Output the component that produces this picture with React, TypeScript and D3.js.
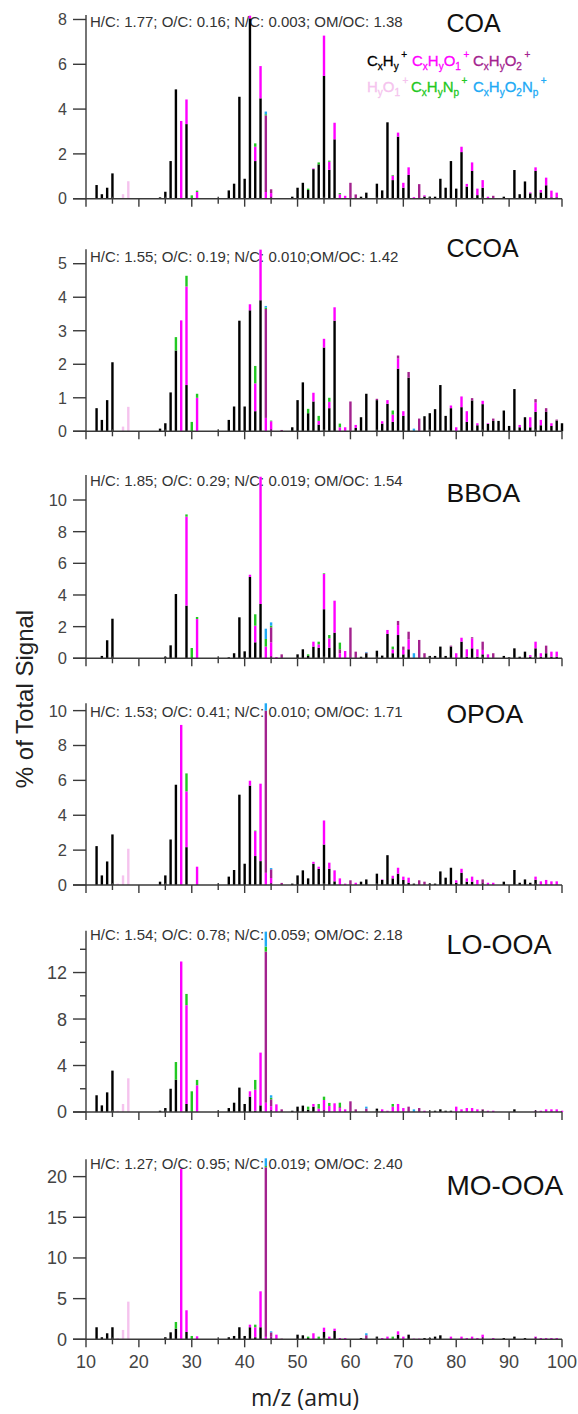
import React from 'react';
import * as d3 from 'd3';

type Pt = [number, number];

// ion families, stacked bottom to top
const families = ['ch', 'cho1', 'cho2', 'ho', 'chn', 'chon'];
const familyColors = ['#000000', '#ff00ff', '#a3228e', '#f5c3ee', '#22c822', '#20aaf5'];

// COA
const coaCH: Pt[] = [[12, .61], [13, .2], [14, .49], [15, 1.13], [24, .06], [25, .31], [26, 1.68], [27, 4.88], [29, 3.33], [37, .37], [38, .67], [39, 4.55], [40, .89], [41, 8.05], [42, 1.68], [43, 4.48], [49, .09], [50, .49], [51, .71], [52, .39], [53, 1.32], [54, 1.53], [55, 5.48], [56, 1.29], [57, 2.65], [62, .09], [63, .27], [65, .67], [66, .37], [67, 3.41], [68, .83], [69, 2.77], [70, .49], [71, 1.06], [74, .1], [75, .09], [76, .09], [77, .89], [78, .49], [79, 1.68], [80, .45], [81, 2.08], [82, .54], [83, 1.24], [84, .16], [85, .49], [89, .09], [91, 1.28], [92, .2], [93, .77], [94, .24], [95, 1.24], [96, .28], [97, .6], [98, .06], [99, .06]];
const coaCHO1: Pt[] = [[28, 3.47], [29, 1.1], [31, .3], [41, .12], [42, .64], [43, 1.44], [44, .3], [45, .25], [53, .03], [55, 1.8], [56, .36], [57, .74], [58, .2], [59, .13], [68, .2], [69, .18], [70, .22], [71, .34], [72, .07], [74, .05], [81, .24], [82, .12], [83, .38], [84, .29], [85, .34], [86, .09], [94, .04], [95, .16], [96, .11], [97, .34], [98, .3], [99, .21]];
const coaCHO2: Pt[] = [[44, 3.42], [45, .17], [60, .71], [61, .19], [73, .65], [87, .13]];
const coaHO: Pt[] = [[17, .2], [18, .78]];
const coaCHN: Pt[] = [[30, .15], [31, .06], [42, .15], [44, .05], [52, .06], [54, .09], [56, .05], [58, .05], [68, .03]];
const coaCHON: Pt[] = [[44, .12]];

// CCOA
const ccoaCH: Pt[] = [[12, .69], [13, .34], [14, .93], [15, 2.06], [24, .08], [25, .24], [26, 1.16], [27, 2.41], [29, 1.38], [37, .34], [38, .74], [39, 3.3], [40, .74], [41, 3.61], [42, .6], [43, 3.91], [49, .12], [50, .93], [51, 1.46], [52, .54], [53, .89], [54, .2], [55, 2.5], [56, .69], [57, 3.3], [61, .1], [62, .42], [63, 1.12], [65, .93], [66, .23], [67, .82], [68, .28], [69, 1.87], [70, .46], [71, 1.6], [74, .45], [75, .54], [76, .66], [77, 1.38], [78, .46], [79, .69], [81, .72], [82, .28], [83, .92], [84, .18], [85, .81], [86, .22], [87, .31], [88, .31], [89, .62], [90, .16], [91, 1.26], [92, .12], [93, .42], [94, .12], [95, .58], [96, .18], [97, .58], [98, .16], [99, .32], [100, .24]];
const ccoaCHO1: Pt[] = [[28, 3.31], [29, 2.94], [31, 1.0], [41, .18], [42, .83], [43, 1.51], [44, .4], [45, .3], [53, .26], [54, .11], [55, .26], [56, .19], [57, .4], [58, .12], [59, .12], [61, .09], [66, .07], [67, .11], [68, .22], [69, .3], [70, .14], [79, .08], [80, .12], [81, .32], [82, .32], [84, .06], [85, .1], [86, .02], [92, .07], [94, .3], [95, .28], [96, .16], [98, .08]];
const ccoaCHO2: Pt[] = [[44, 3.25], [47, .04], [60, .89], [65, .04], [69, .09], [71, .17], [73, .38], [83, .07], [87, .07], [95, .1], [97, .11], [99, .03]];
const ccoaHO: Pt[] = [[17, .14], [18, .73]];
const ccoaCHN: Pt[] = [[27, .4], [29, .32], [30, .28], [31, .12], [42, .52], [44, .04], [45, .02], [52, .13], [54, .15], [56, .12], [58, .11], [68, .12]];
const ccoaCHON: Pt[] = [[44, .05], [72, .08]];

// BBOA
const bboaCH: Pt[] = [[13, .15], [14, 1.14], [15, 2.5], [25, .1], [26, .82], [27, 4.06], [29, 3.33], [37, .06], [38, .32], [39, 2.59], [40, .44], [41, 5.14], [42, 1.01], [43, 3.43], [50, .25], [51, .57], [52, .15], [53, .74], [54, .67], [55, 3.1], [56, .67], [57, 1.62], [62, .1], [63, .32], [65, .48], [66, .17], [67, 1.54], [68, .32], [69, 1.47], [70, .25], [71, .57], [75, .15], [76, .15], [77, .74], [78, .15], [79, .74], [81, 1.05], [82, .1], [83, .63], [84, .1], [85, .25], [89, .15], [90, .06], [91, .63], [92, .1], [93, .42], [94, .1], [95, .63], [96, .1], [97, .32], [98, .1], [99, .1]];
const bboaCHO1: Pt[] = [[29, 5.62], [31, 2.48], [41, .14], [42, 1.05], [43, 8.04], [44, .74], [45, 1.01], [46, .08], [53, .31], [54, .21], [55, 2.23], [56, .59], [57, 2.02], [58, .32], [59, .46], [67, .25], [68, .25], [69, .63], [70, .28], [71, .63], [80, .32], [81, .25], [82, .47], [83, .63], [84, .47], [85, .28], [86, .25], [94, .1], [95, .42], [96, .22], [98, .32], [99, .32]];
const bboaCHO2: Pt[] = [[45, .95], [47, .25], [58, .25], [60, 1.94], [61, .42], [63, .04], [69, .26], [70, .21], [71, .48], [73, 1.16], [74, .32], [79, .06], [83, .07], [85, .52], [87, .32], [97, .48]];
const bboaHO: Pt[] = [];
const bboaCHN: Pt[] = [[29, .14], [30, .65], [31, .13], [42, .72], [44, .48], [45, .1], [52, .1], [54, .17], [55, .04], [56, .21], [58, .42], [68, .17]];
const bboaCHON: Pt[] = [[44, .65], [45, .21], [63, .04], [72, .32]];

// OPOA
const opoaCH: Pt[] = [[12, 2.23], [13, .55], [14, 1.35], [15, 2.9], [24, .19], [25, .55], [26, 2.61], [27, 5.75], [29, 2.17], [37, .48], [38, .86], [39, 5.18], [40, 1.22], [41, 5.7], [42, 1.66], [43, 1.37], [49, .08], [50, .55], [51, .84], [52, .38], [53, 1.22], [54, .93], [55, 2.32], [56, .93], [57, .21], [62, .19], [63, .32], [65, .65], [66, .29], [67, 1.71], [68, .38], [69, .65], [70, .29], [71, .13], [72, .08], [75, .08], [76, .08], [77, .78], [78, .42], [79, .99], [80, .13], [81, .7], [82, .19], [83, .19], [89, .19], [91, .86], [92, .13], [93, .32], [94, .13], [95, .3]];
const opoaCHO1: Pt[] = [[28, 9.18], [29, 3.2], [31, 1.05], [41, .28], [42, 1.43], [43, 4.44], [44, .7], [45, .4], [53, .11], [54, .12], [55, 1.38], [56, .35], [57, .63], [58, .38], [59, .08], [61, .13], [66, .03], [68, .15], [69, .34], [70, .19], [71, .29], [80, .14], [81, .23], [82, .19], [83, .29], [84, .29], [86, .13], [87, .13], [95, .18], [96, .21], [97, .29], [98, .21], [99, .21]];
const opoaCHO2: Pt[] = [[44, 9.3], [45, .5], [47, .12], [60, .27], [73, .27], [74, .19], [85, .32]];
const opoaHO: Pt[] = [[16, .08], [17, .55], [18, 2.08]];
const opoaCHN: Pt[] = [[29, 1.03], [42, .03]];
const opoaCHON: Pt[] = [[44, .42], [45, .07]];

// LO-OOA
const looaCH: Pt[] = [[12, 1.44], [13, .57], [14, 1.69], [15, 3.56], [24, .11], [25, .34], [26, 2.0], [27, 2.78], [29, .69], [37, .34], [38, .8], [39, 2.1], [40, .69], [41, 1.32], [42, .11], [43, .57], [49, .11], [50, .46], [51, .55], [52, .2], [53, .46], [65, .29], [76, .11], [77, .23], [78, .11], [79, .11], [91, .23]];
const looaCHO1: Pt[] = [[28, 12.95], [29, 8.5], [31, 2.3], [41, .46], [42, 1.81], [43, 4.54], [44, .8], [45, .5], [46, .66], [53, .23], [54, .29], [55, 1.03], [56, .52], [57, .75], [58, .32], [59, .23], [66, .23], [67, .11], [68, .46], [69, .69], [70, .34], [74, .11], [80, .46], [81, .23], [82, .34], [83, .34], [84, .23], [86, .11], [87, .11], [95, .11], [96, .11], [97, .23], [98, .23], [99, .23], [100, .11]];
const looaCHO2: Pt[] = [[44, 13.0], [45, .59], [47, .23], [58, .1], [60, .92], [61, .23], [63, .3], [71, .46], [73, .34], [85, .23]];
const looaHO: Pt[] = [[16, .11], [17, .69], [18, 2.9]];
const looaCHN: Pt[] = [[27, 1.52], [29, .97], [30, 1.78], [31, .46], [42, .84], [44, .43], [45, .14], [52, .26], [54, .4], [55, .29], [56, .26], [58, .38], [68, .23]];
const looaCHON: Pt[] = [[44, 1.29], [45, .21], [63, .16], [72, .23]];

// MO-OOA
const mooaCH: Pt[] = [[12, 1.48], [13, .25], [14, .74], [15, 1.48], [25, .25], [26, .86], [27, 1.31], [29, .9], [37, .25], [38, .41], [39, 1.48], [40, .41], [41, 1.48], [42, .25], [43, 1.48], [50, .57], [51, .49], [52, .16], [55, .9], [57, 1.02], [62, .16], [65, .33], [69, .57], [71, .57], [74, .16], [75, .16], [76, .33], [77, .49], [89, .16], [91, .33], [93, .16]];
const mooaCHO1: Pt[] = [[28, 20.95], [29, 2.67], [31, .37], [41, .32], [42, 1.23], [43, 4.42], [44, .3], [45, .3], [46, .57], [53, .74], [55, .53], [56, .33], [57, .29], [58, .16], [59, .16], [66, .16], [67, .33], [69, .41], [70, .33], [72, .08], [73, .08], [79, .33], [81, .33], [82, .16], [83, .33], [84, .16], [85, .57], [87, .16], [95, .33], [96, .16], [97, .16], [98, .16], [99, .16]];
const mooaCHO2: Pt[] = [[44, 20.85], [45, .55], [47, .08], [63, .5]];
const mooaHO: Pt[] = [[16, .16], [17, 1.15], [18, 4.63]];
const mooaCHN: Pt[] = [[27, .82], [30, .41], [42, .32], [44, .15], [52, .17], [54, .33], [68, .33]];
const mooaCHON: Pt[] = [[44, .95], [45, .13], [63, .24]];

const factorNames = ['COA', 'CCOA', 'BBOA', 'OPOA', 'LO-OOA', 'MO-OOA'];
const elemental = [
  'H/C: 1.77; O/C: 0.16; N/C: 0.003; OM/OC: 1.38',
  'H/C: 1.55; O/C: 0.19; N/C: 0.010;OM/OC: 1.42',
  'H/C: 1.85; O/C: 0.29; N/C: 0.019; OM/OC: 1.54',
  'H/C: 1.53; O/C: 0.41; N/C: 0.010; OM/OC: 1.71',
  'H/C: 1.54; O/C: 0.78; N/C: 0.059; OM/OC: 2.18',
  'H/C: 1.27; O/C: 0.95; N/C: 0.019; OM/OC: 2.40',
];
const factorData = [
  [coaCH, coaCHO1, coaCHO2, coaHO, coaCHN, coaCHON],
  [ccoaCH, ccoaCHO1, ccoaCHO2, ccoaHO, ccoaCHN, ccoaCHON],
  [bboaCH, bboaCHO1, bboaCHO2, bboaHO, bboaCHN, bboaCHON],
  [opoaCH, opoaCHO1, opoaCHO2, opoaHO, opoaCHN, opoaCHON],
  [looaCH, looaCHO1, looaCHO2, looaHO, looaCHN, looaCHON],
  [mooaCH, mooaCHO1, mooaCHO2, mooaHO, mooaCHN, mooaCHON],
];
const yMax = [8.2, 5.43, 11.58, 10.42, 15.6, 22.13];
const yTicks = [[0, 2, 4, 6, 8], [0, 1, 2, 3, 4, 5], [0, 2, 4, 6, 8, 10], [0, 2, 4, 6, 8, 10], [0, 4, 8, 12], [0, 5, 10, 15, 20]];
const yMinorTicks = [[], [], [], [], [2, 6, 10, 14], []];
const xTicks = [10, 20, 30, 40, 50, 60, 70, 80, 90, 100];
const xMinorTicks = [15, 25, 35, 45, 55, 65, 75, 85, 95];

// panel geometry (px)
const layout = [
  { y0: 198.7, top: 15, infoY: 27.3, titleY: 31.7, titleSize: 25, tickSize: 16 },
  { y0: 431.3, top: 249.3, infoY: 261.5, titleY: 256.7, titleSize: 25, tickSize: 16 },
  { y0: 658.3, top: 475, infoY: 485.7, titleY: 501.7, titleSize: 26.5, tickSize: 16.5 },
  { y0: 885, top: 703.3, infoY: 716.5, titleY: 723.3, titleSize: 26.5, tickSize: 16.5 },
  { y0: 1112, top: 930.7, infoY: 940, titleY: 954, titleSize: 27, tickSize: 18 },
  { y0: 1339.3, top: 1159.3, infoY: 1169.3, titleY: 1195, titleSize: 28, tickSize: 18 },
];

const W = 578;
const H = 1414;
const font = 'Arial, "Liberation Sans", sans-serif';
const axisColor = '#3a3a3a';
const barW = 2.4;

type Part = [string, 'n' | 'b' | 'p'];
const legendItems: { x: number; y: number; color: number; parts: Part[] }[] = [
  { x: 367, y: 66, color: 0, parts: [['C', 'n'], ['x', 'b'], ['H', 'n'], ['y', 'b'], ['+', 'p']] },
  { x: 412, y: 66, color: 1, parts: [['C', 'n'], ['x', 'b'], ['H', 'n'], ['y', 'b'], ['O', 'n'], ['1', 'b'], ['+', 'p']] },
  { x: 473, y: 66, color: 2, parts: [['C', 'n'], ['x', 'b'], ['H', 'n'], ['y', 'b'], ['O', 'n'], ['2', 'b'], ['+', 'p']] },
  { x: 367, y: 92, color: 3, parts: [['H', 'n'], ['y', 'b'], ['O', 'n'], ['1', 'b'], ['+', 'p']] },
  { x: 411, y: 92, color: 4, parts: [['C', 'n'], ['x', 'b'], ['H', 'n'], ['y', 'b'], ['N', 'n'], ['p', 'b'], ['+', 'p']] },
  { x: 473, y: 92, color: 5, parts: [['C', 'n'], ['x', 'b'], ['H', 'n'], ['y', 'b'], ['O', 'n'], ['2', 'b'], ['N', 'n'], ['p', 'b'], ['+', 'p']] },
];

function Formula({ x, y, parts, color }: { x: number; y: number; parts: Part[]; color: string }) {
  let shift = 0;
  return (
    <text x={x} y={y} fill={color} fontSize={15} fontFamily={font} stroke={color} strokeWidth={0.3}>
      {parts.map(([t, k], i) => {
        const target = k === 'b' ? 4 : k === 'p' ? -8 : 0;
        const dy = target - shift;
        shift = target;
        return (
          <tspan key={i} dy={dy} dx={k === 'p' ? 2.5 : 0} fontSize={k === 'n' ? 15 : 10}>{t}</tspan>
        );
      })}
    </text>
  );
}

const x = d3.scaleLinear().domain([10, 100]).range([86, 562]);

function Panel({ idx }: { idx: number }) {
  const L = layout[idx];
  const y = d3.scaleLinear().domain([0, yMax[idx]]).range([L.y0, L.top]);

  // build a table from the sparse family lists, then stack it
  const table = new Map<number, Record<string, number>>();
  factorData[idx].forEach((list, fi) => {
    list.forEach(([mz, v]) => {
      if (!table.has(mz)) {
        const row: Record<string, number> = { mz };
        families.forEach((f) => (row[f] = 0));
        table.set(mz, row);
      }
      table.get(mz)![families[fi]] = v;
    });
  });
  const rows = Array.from(table.values()).sort((a, b) => a.mz - b.mz);
  const series = d3.stack<Record<string, number>>().keys(families)(rows);

  return (
    <g>
      <text x={90} y={L.infoY} fontSize={15} fontFamily={font} fill="#333">{elemental[idx]}</text>
      <text x={446.5} y={L.titleY} fontSize={L.titleSize} fontFamily={font} fill="#111">{factorNames[idx]}</text>
      {series.map((s, si) => (
        <g key={si} fill={familyColors[si]}>
          {s.filter((d) => d[1] - d[0] > 0).map((d, i) => (
            <rect key={i} x={x(d.data.mz) - barW / 2} width={barW} y={y(d[1])} height={y(d[0]) - y(d[1])} />
          ))}
        </g>
      ))}
      {/* y axis */}
      <line x1={x(10)} x2={x(10)} y1={L.top} y2={L.y0} stroke={axisColor} strokeWidth={1.4} />
      {yTicks[idx].map((t) => (
        <g key={t}>
          <line x1={x(10) - 13} x2={x(10)} y1={y(t)} y2={y(t)} stroke={axisColor} strokeWidth={1.4} />
          <text x={67} y={y(t)} dy="0.36em" textAnchor="end" fontSize={L.tickSize} fontFamily={font} fill="#444">{t}</text>
        </g>
      ))}
      {yMinorTicks[idx].map((t) => (
        <line key={'m' + t} x1={x(10) - 6} x2={x(10)} y1={y(t)} y2={y(t)} stroke={axisColor} strokeWidth={1.4} />
      ))}
      {/* x axis */}
      <line x1={x(10) - 13} x2={x(100)} y1={L.y0} y2={L.y0} stroke={axisColor} strokeWidth={1.4} />
      {xTicks.map((t) => (
        <line key={t} x1={x(t)} x2={x(t)} y1={L.y0} y2={L.y0 + 8} stroke={axisColor} strokeWidth={1.4} />
      ))}
      {xMinorTicks.map((t) => (
        <line key={t} x1={x(t)} x2={x(t)} y1={L.y0 - 2} y2={L.y0 + 5} stroke={axisColor} strokeWidth={1.4} />
      ))}
      {idx === 5 &&
        xTicks.map((t) => (
          <text key={'l' + t} x={x(t)} y={1367.5} textAnchor="middle" fontSize={18} fontFamily={font} fill="#444">{t}</text>
        ))}
    </g>
  );
}

export default function App() {
  return (
    <svg width={W} height={H} style={{ position: 'absolute', left: 0, top: 0, background: '#fff' }}>
      <rect width={W} height={H} fill="#fff" />
      {factorNames.map((_, i) => (
        <Panel key={i} idx={i} />
      ))}
      {legendItems.map((it, i) => (
        <Formula key={i} x={it.x} y={it.y} parts={it.parts} color={familyColors[it.color]} />
      ))}
      <text transform="translate(33,699) rotate(-90)" textAnchor="middle" fontSize={24} fontFamily={font} fill="#222">% of Total Signal</text>
      <text x={305} y={1406} textAnchor="middle" fontSize={23} fontFamily='"Open Sans", sans-serif' fill="#222">m/z (amu)</text>
    </svg>
  );
}
